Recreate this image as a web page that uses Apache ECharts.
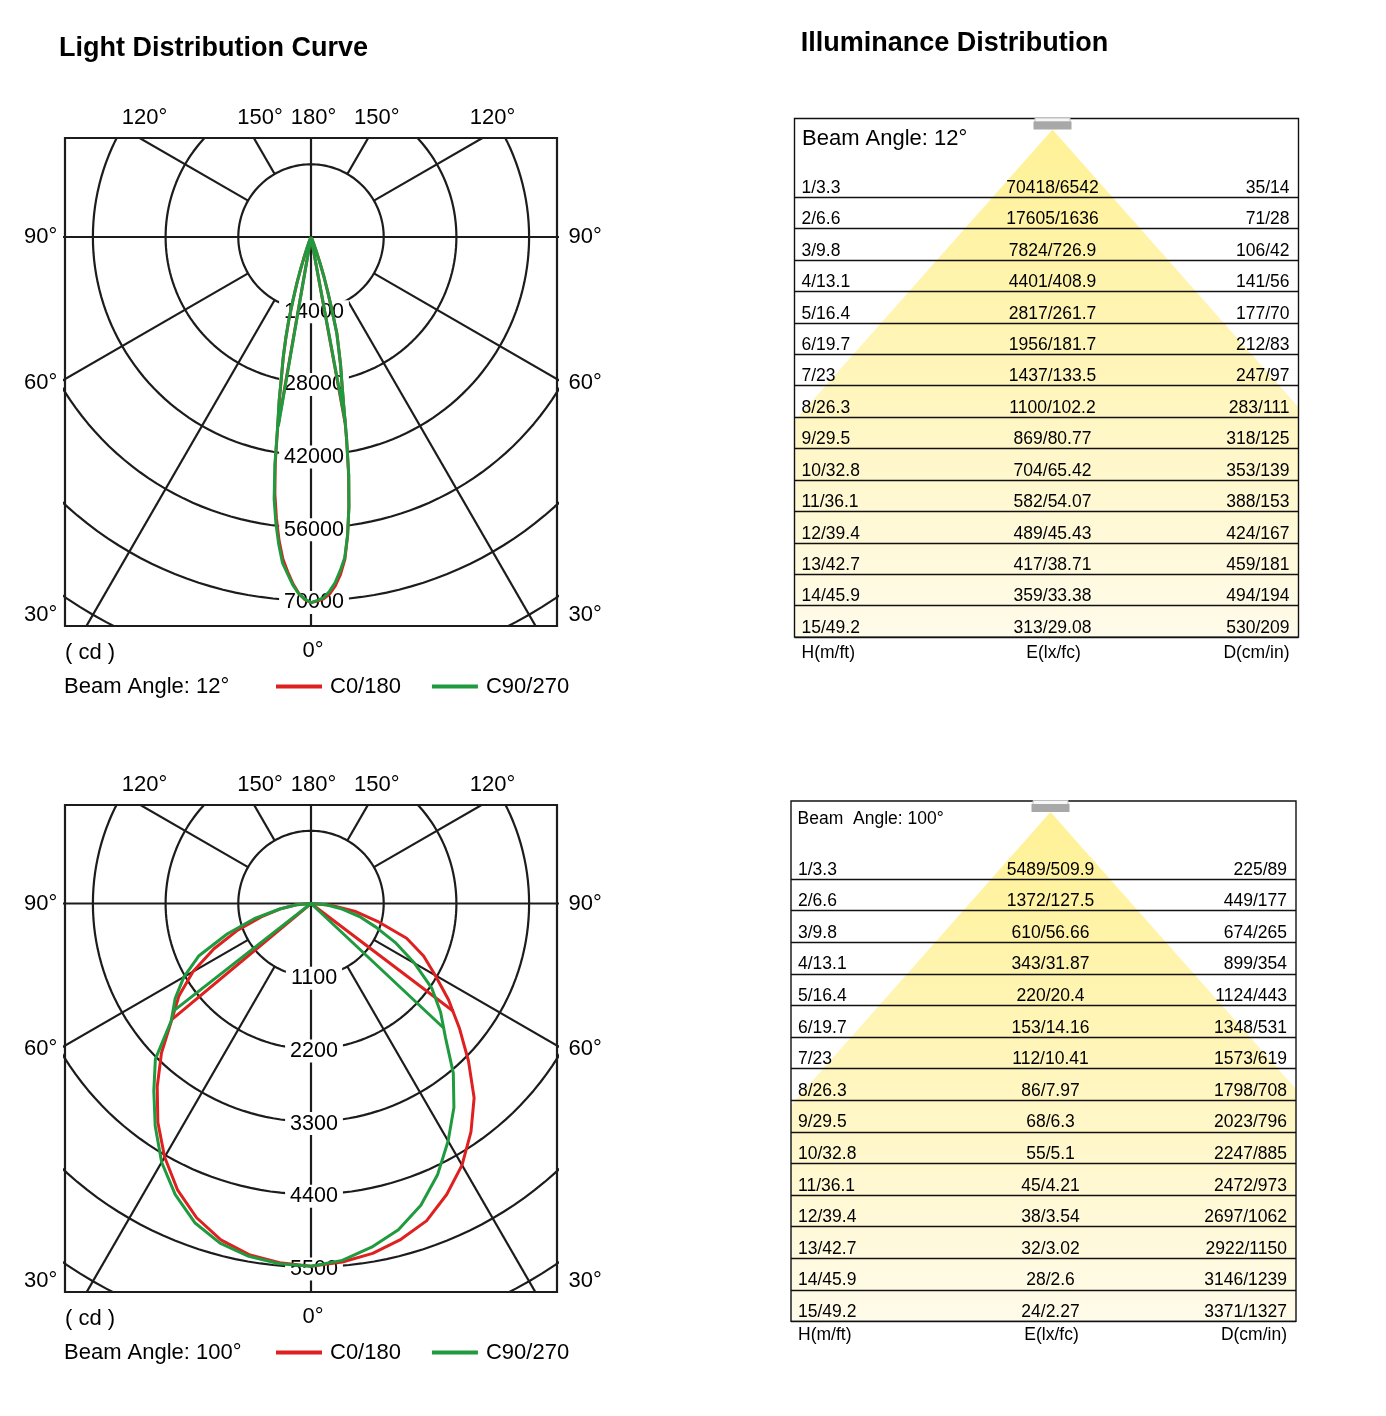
<!DOCTYPE html>
<html>
<head>
<meta charset="utf-8">
<title>Light Distribution Curve / Illuminance Distribution</title>
<script src="https://cdn.jsdelivr.net/npm/echarts@6.0.0/dist/echarts.min.js"></script>
<style>
html,body{margin:0;padding:0;background:#fff;}
#chart{width:1386px;height:1416px;}
</style>
</head>
<body>
<div id="chart"></div>
<script>
// ================= DATA =================
// Polar intensity curves: gamma angle from nadir (deg) -> luminous intensity (cd)
const gamma12 = [0,1,2,3,4,5,6,7,8,9,10,11,12,13,14,15,16,17,18,19,20,22,25,30,45,90];
const c0_12   = [70418,70100,69700,68800,67300,65200,62400,57900,52400,46300,39400,32900,28500,25300,21900,19200,14600,10900,8100,5400,3300,1250,390,120,25,0];
const c180_12 = [70418,69800,68600,66800,64600,62200,58800,54600,50000,44000,36800,32000,27200,23700,20000,16400,12300,9200,6200,3800,2100,780,290,100,20,0];
const c90_12  = [70418,70000,69500,68300,66700,64500,62100,57800,52500,46500,39500,33000,28600,25400,22000,19300,14700,11000,8200,5500,3400,1300,400,120,25,0];
const c270_12 = [70418,69700,68700,67100,65000,63000,59500,55500,51000,44500,37000,32200,27300,23800,20100,16500,12400,9300,6300,3900,2200,800,300,100,20,0];
// half-peak (beam edge) points: [signed gamma, cd]
const beam12_C0  = [[-9.9, 36800], [10.4, 36300]];
const beam12_C90 = [[-9.8, 37000], [10.5, 36000]];
const rings12 = [14000, 28000, 42000, 56000, 70000];

const gamma100 = [0,5,10,15,20,25,30,35,40,45,50,55,60,65,70,75,80,85,90];
const c0_100   = [5489,5445,5375,5260,5110,4858,4570,4220,3840,3370,2930,2540,2170,1880,1540,1040,670,300,0];
const c180_100 = [5489,5455,5395,5270,5060,4780,4430,4040,3620,3200,2755,2440,2060,1620,1180,780,470,220,0];
const c90_100  = [5489,5420,5280,5110,4860,4530,4150,3770,3350,2880,2560,2230,1810,1420,1045,760,480,230,0];
const c270_100 = [5489,5472,5420,5320,5140,4860,4520,4110,3700,3330,2760,2510,2220,1870,1350,890,480,220,0];
const beam100_C0  = [[-50.2, 2743], [52.9, 2701]];
const beam100_C90 = [[-52.0, 2645], [46.8, 2747]];
const rings100 = [1100, 2200, 3300, 4400, 5500];

const topAngleLabels  = ['120°','150°','180°','150°','120°'];
const sideAngleLabels = ['90°','60°','30°'];
const bottomAngleLabel = '0°';
const unitLabel = '( cd )';
const legendNames = ['C0/180','C90/270'];

// Illuminance tables
const mountHeights = ['1/3.3','2/6.6','3/9.8','4/13.1','5/16.4','6/19.7','7/23','8/26.3','9/29.5','10/32.8','11/36.1','12/39.4','13/42.7','14/45.9','15/49.2'];
const illum12  = ['70418/6542','17605/1636','7824/726.9','4401/408.9','2817/261.7','1956/181.7','1437/133.5','1100/102.2','869/80.77','704/65.42','582/54.07','489/45.43','417/38.71','359/33.38','313/29.08'];
const diam12   = ['35/14','71/28','106/42','141/56','177/70','212/83','247/97','283/111','318/125','353/139','388/153','424/167','459/181','494/194','530/209'];
const illum100 = ['5489/509.9','1372/127.5','610/56.66','343/31.87','220/20.4','153/14.16','112/10.41','86/7.97','68/6.3','55/5.1','45/4.21','38/3.54','32/3.02','28/2.6','24/2.27'];
const diam100  = ['225/89','449/177','674/265','899/354','1124/443','1348/531','1573/619','1798/708','2023/796','2247/885','2472/973','2697/1062','2922/1150','3146/1239','3371/1327'];
const tableFooters = ['H(m/ft)','E(lx/fc)','D(cm/in)'];

// ================= STYLE / LAYOUT =================
const FONT = '"Liberation Sans", Arial, Helvetica, sans-serif';
const RED = '#de2020', GREEN = '#1f9a3e', INK = '#1c1c1c';
const rad = d => d * Math.PI / 180;
const toXY = (g, v) => [v * Math.sin(rad(g)), v * Math.cos(rad(g))];

const option = {animation:false, backgroundColor:'#fff', grid:[], xAxis:[], yAxis:[], series:[], legend:[], graphic:[]};
const G = option.graphic;
function txt(x, y, text, size, align, extra) {
  G.push({type:'text', x:x, y:y, silent:true, z:20,
    style:Object.assign({text:text, fill:'#000', fontSize:size, fontFamily:FONT,
      align:align, textAlign:align, verticalAlign:'middle', textVerticalAlign:'middle'}, extra || {})});
}

// ---------- polar (light distribution) diagrams ----------
const PL = {L:65, R:557, cx:311, unit:72.7};
function buildPolar(cfg) {
  const gi = option.grid.length;
  const k = cfg.step / PL.unit;
  option.grid.push({left:PL.L, top:cfg.T, width:PL.R-PL.L, height:cfg.B-cfg.T, show:true,
    borderColor:INK, borderWidth:2.2, backgroundColor:'rgba(0,0,0,0)', containLabel:false, outerBoundsMode:'none'});
  option.xAxis.push({type:'value', gridIndex:gi, min:(PL.L-PL.cx)*k, max:(PL.R-PL.cx)*k, show:false});
  option.yAxis.push({type:'value', gridIndex:gi, inverse:true, min:(cfg.T-cfg.cy)*k, max:(cfg.B-cfg.cy)*k, show:false});
  const base = {type:'line', xAxisIndex:gi, yAxisIndex:gi, showSymbol:false, symbol:'none', silent:true, clip:true, animation:false};
  const gridLine = pts => option.series.push(Object.assign({}, base, {z:1, data:pts, lineStyle:{color:INK, width:2.2}, itemStyle:{color:INK}}));
  for (let n = 1; n <= 7; n++) {
    const pts = [];
    for (let a = 0; a <= 360; a += 2) pts.push(toXY(a, n * cfg.step));
    gridLine(pts);
  }
  const far = cfg.step * 10;
  [30, 60, 120, 150].forEach(a => {
    gridLine([toXY(a, cfg.step), toXY(a, far)]);
    gridLine([toXY(-a, cfg.step), toXY(-a, far)]);
  });
  gridLine([toXY(0, far), toXY(180, far)]);
  gridLine([toXY(-90, far), toXY(90, far)]);
  // ring value labels
  option.series.push({type:'scatter', xAxisIndex:gi, yAxisIndex:gi, z:3, silent:true, symbolSize:0,
    itemStyle:{color:'#000', opacity:1},
    data:cfg.rings.map(v => ({name:String(v), value:toXY(0, v)})),
    label:{show:true, position:'inside', offset:[3, 2], formatter:'{b}', fontSize:21.5, fontFamily:FONT,
      color:'#000', opacity:1, textBorderWidth:0, textShadowBlur:0, backgroundColor:'#fff', padding:[1, 5, 0, 5]}});
  // intensity curves + beam-edge lines
  cfg.curves.forEach(c => {
    const pts = [];
    for (let i = c.gamma.length - 1; i >= 0; i--) pts.push(toXY(-c.gamma[i], c.left[i]));
    for (let i = 1; i < c.gamma.length; i++) pts.push(toXY(c.gamma[i], c.right[i]));
    option.series.push(Object.assign({}, base, {name:c.name, z:5, data:pts, lineStyle:{color:c.color, width:3}, itemStyle:{color:c.color}}));
    option.series.push(Object.assign({}, base, {name:c.name, z:5,
      data:[toXY(c.beam[0][0], c.beam[0][1]), [0, 0], toXY(c.beam[1][0], c.beam[1][1])],
      lineStyle:{color:c.color, width:3}, itemStyle:{color:c.color}}));
  });
  // angle labels
  const offs = [-166.5, -51, 2.6, 65.7, 181.6];
  topAngleLabels.forEach((t, i) => txt(PL.cx + offs[i], cfg.T - 20.5, t, 22, 'center'));
  const sideY = [cfg.cy, cfg.cy + 145.5, cfg.B - 11];
  sideAngleLabels.forEach((t, i) => { txt(24, sideY[i], t, 22, 'left'); txt(568.5, sideY[i], t, 22, 'left'); });
  txt(65, cfg.B + 26.6, unitLabel, 22, 'left');
  txt(313, cfg.B + 25, bottomAngleLabel, 22, 'center');
  txt(64, cfg.B + 61, cfg.beamText, 22, 'left');
  option.legend.push({
    data:[{name:legendNames[0], itemStyle:{color:RED, borderWidth:0}}, {name:legendNames[1], itemStyle:{color:GREEN, borderWidth:0}}],
    left:276, top:cfg.B + 49.5, icon:'rect', itemWidth:46, itemHeight:4, itemGap:31, padding:0,
    selectedMode:false, itemStyle:{borderWidth:0},
    textStyle:{fontSize:22, color:'#000', fontFamily:FONT, padding:[0, 0, 0, 3]}});
}

buildPolar({T:138, B:626, cy:237, step:14000, rings:rings12, beamText:'Beam Angle: 12°', curves:[
  {name:legendNames[0], color:RED,   gamma:gamma12, left:c180_12, right:c0_12,  beam:beam12_C0},
  {name:legendNames[1], color:GREEN, gamma:gamma12, left:c270_12, right:c90_12, beam:beam12_C90}]});
buildPolar({T:805, B:1292, cy:903.5, step:1100, rings:rings100, beamText:'Beam Angle: 100°', curves:[
  {name:legendNames[0], color:RED,   gamma:gamma100, left:c180_100, right:c0_100,  beam:beam100_C0},
  {name:legendNames[1], color:GREEN, gamma:gamma100, left:c270_100, right:c90_100, beam:beam100_C90}]});

// ---------- illuminance tables ----------
const CONE_SLOPE = 0.886;
function buildTable(cfg) {
  const gi = option.grid.length;
  const n = mountHeights.length;
  option.grid.push({left:cfg.left, top:cfg.rowTop, width:cfg.right-cfg.left, height:cfg.bottom-cfg.rowTop,
    show:false, containLabel:false, outerBoundsMode:'none'});
  option.xAxis.push({type:'value', gridIndex:gi, min:0, max:100, show:false});
  option.yAxis.push({type:'value', gridIndex:gi, min:0, max:n, interval:1, inverse:true, z:3,
    axisLine:{show:false}, axisTick:{show:false}, axisLabel:{show:false},
    splitLine:{show:true, showMinLine:false, showMaxLine:true, lineStyle:{color:'#111', width:1.4}}});
  const midX = (cfg.lampX - cfg.left) / (cfg.right - cfg.left) * 100;
  const col = (x, texts, pos, dist) => option.series.push({type:'scatter', xAxisIndex:gi, yAxisIndex:gi, z:5,
    silent:true, clip:false, symbolSize:1, itemStyle:{color:'rgba(0,0,0,0)', opacity:1},
    data:texts.map((t, i) => ({name:t, value:[x, i + 0.71]})),
    label:{show:true, position:pos, distance:dist, formatter:'{b}', fontSize:17.5, fontFamily:FONT,
      color:'#000', opacity:1, textBorderWidth:0, textShadowBlur:0}});
  col(0, mountHeights, 'right', 6.5);
  col(midX, cfg.illum, 'inside', 0);
  col(100, cfg.diam, 'left', 8.5);
  // light cone
  const ax = cfg.lampX, ay = cfg.top + 11;
  const yl = ay + (ax - cfg.left) / CONE_SLOPE, yr = ay + (cfg.right - ax) / CONE_SLOPE;
  G.push({type:'polygon', z:-5, silent:true,
    shape:{points:[[ax, ay], [cfg.left, yl], [cfg.left, cfg.bottom], [cfg.right, cfg.bottom], [cfg.right, yr]]},
    style:{fill:{type:'linear', x:0, y:0, x2:0, y2:1, colorStops:[
      {offset:0, color:'#fff196'}, {offset:0.45, color:'#fff5b8'}, {offset:1, color:'#fffbea'}]}}});
  // box
  G.push({type:'rect', z:8, silent:true, shape:{x:cfg.left, y:cfg.top, width:cfg.right-cfg.left, height:cfg.bottom-cfg.top},
    style:{fill:'none', stroke:'#111', lineWidth:1.4}});
  // lamp
  G.push({type:'rect', z:12, silent:true, shape:{x:ax-17.5, y:cfg.top-0.5, width:35, height:4},
    style:{fill:'#f6f6f6', stroke:'#bdbdbd', lineWidth:1}});
  G.push({type:'rect', z:12, silent:true, shape:{x:ax-19, y:cfg.top+3, width:38, height:8},
    style:{fill:'#a8a8a8'}});
  txt(cfg.headerX, cfg.headerY, cfg.header, cfg.headerSize, 'left');
  txt(cfg.left + 7, cfg.footerY, tableFooters[0], 17.5, 'left');
  txt(cfg.lampX + 1, cfg.footerY, tableFooters[1], 17.5, 'center');
  txt(cfg.right - 9, cfg.footerY, tableFooters[2], 17.5, 'right');
}

buildTable({left:794.5, right:1298.5, top:118.5, rowTop:165.8, bottom:637.1, lampX:1052.5,
  header:'Beam Angle: 12°', headerSize:22, headerX:802, headerY:139, footerY:653.4, illum:illum12, diam:diam12});
buildTable({left:791, right:1296, top:801, rowTop:847.4, bottom:1321.4, lampX:1050.5,
  header:'Beam  Angle: 100°', headerSize:17.5, headerX:797.6, headerY:819, footerY:1335.3, illum:illum100, diam:diam100});

// titles
txt(59, 49, 'Light Distribution Curve', 27, 'left', {fontWeight:'bold'});
txt(800.7, 43.5, 'Illuminance Distribution', 27, 'left', {fontWeight:'bold'});

const chart = echarts.init(document.getElementById('chart'), null, {renderer:'canvas', width:1386, height:1416});
chart.setOption(option);
</script>
</body>
</html>
